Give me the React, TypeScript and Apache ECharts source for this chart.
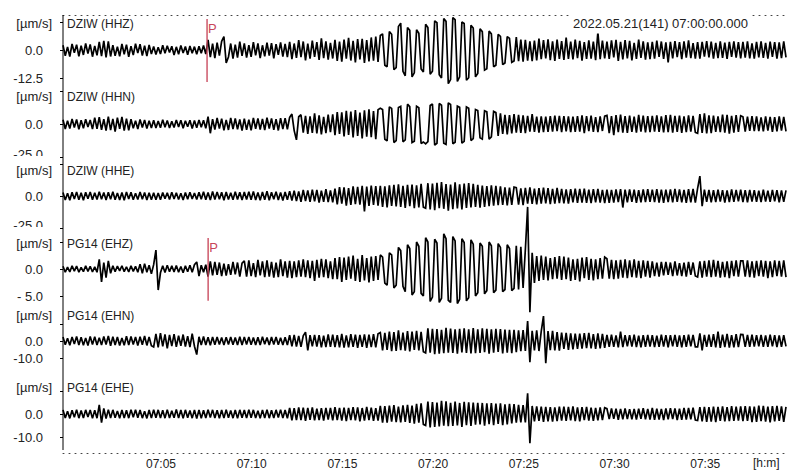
import React, { useEffect, useRef } from 'react';
import * as echarts from 'echarts';

// ---- data ----
const T0 = -0.4; // minutes after 07:00 at the left edge
const T1 = 39.45; // minutes after 07:00 at the right edge
const timeTicks = [5, 10, 15, 20, 25, 30, 35];
const timeLabels = ['07:05', '07:10', '07:15', '07:20', '07:25', '07:30', '07:35'];
const channelNames = ['DZIW (HHZ)', 'DZIW (HHN)', 'DZIW (HHE)', 'PG14 (EHZ)', 'PG14 (EHN)', 'PG14 (EHE)'];
const unitLabel = '[µm/s]';
const titleText = '2022.05.21(141) 07:00:00.000';
const axisUnit = '[h:m]';
const yLimits = [12.5, 25, 25, 5, 10, 10];
const minLabels = ['-12.5', '-25.0', '-25.0', '- 5.0', '-10.0', '-10.0'];

// velocity samples (µm/s), evenly spaced from T0 to T1
const HHZ = [
  2.1, -2.6, 1.4, -2.9, 2.7, -1.2, 2.4, -2.8, 1.9, -2.2, 2.9, -1.6, 2.5, -3.0, 1.8, -2.4, 3.6, -2.7, 4.1, -3.3,
  3.8, -2.9, 2.2, -2.6, 1.5, -2.8, 2.7, -1.9, 2.4, -3.0, 1.7, -2.3, 2.8, -1.4, 2.6, -2.5, 1.9, -2.7, 2.3, -1.8,
  1.6, -2.0, 1.2, -1.8, 2.1, -1.5, 1.9, -1.1, 1.7, -2.2, 1.4, -1.9, 2.0, -1.3, 1.6, -2.1, 1.8, -1.4, 1.5, -1.9,
  1.7, -1.5, 2.0, -1.8, 4.5, -3.2, 2.8, -3.6, 3.3, -2.5, 3.9, 6.0, -5.8, -3.1, 2.9, -3.8, 2.4, -3.4, 3.7, -2.6,
  3.0, -3.4, 2.2, -3.1, 3.5, -2.4, 2.9, -3.6, 2.1, -2.8, 3.3, -2.5, 3.1, -3.7, 2.6, -2.2, 3.4, -3.0, 2.7, -3.2,
  3.6, -4.1, 2.9, -3.5, 4.4, -3.2, 3.8, -4.6, 2.8, -3.9, 4.2, -3.1, 3.5, -4.4, 5.2, -3.6, 3.9, -4.3, 3.2, -3.8,
  4.5, -4.9, 3.8, -5.2, 4.6, -3.9, 5.4, -4.7, 4.1, -5.5, 4.9, -4.2, 5.0, -5.8, 4.4, -5.1, 5.6, -4.8, 6.0, -5.3,
  6.5, 7.2, -6.8, -7.5, 8.2, 7.0, -8.8, -7.9, 10.5, 12.0, -9.5, -11.5, 10.0, 8.8, -12.0, -10.2, 9.0, 7.5, -8.5, -9.8,
  11.5, 10.0, -10.8, -9.5, 13.0, 12.2, -11.0, -12.5, 14.0, 12.8, -15.0, -13.2, 14.5, 13.6, -14.0, -12.0, 12.5, 11.8, -13.5, -12.4,
  11.0, 9.8, -12.0, -10.5, 9.5, 8.2, -9.0, -8.4, 8.5, 7.2, -7.5, -6.8, 7.0, 6.1, -6.5, -5.8, 6.0, 5.2, -5.5, -4.9,
  5.8, -5.0, 4.6, -5.2, 4.5, -4.8, 3.9, -5.0, 4.2, -4.6, 5.1, -4.1, 4.4, -3.8, 4.8, -4.5, 3.9, -4.9, 4.6, -4.0,
  4.0, -4.4, 5.5, -4.0, 3.8, -4.2, 4.6, -3.6, 4.1, -4.7, 3.5, -4.0, 4.3, -3.9, 3.7, -4.5, 8.0, -4.1, 4.2, -3.8,
  3.8, -4.0, 4.3, -3.3, 4.5, -4.9, 3.6, -4.2, 4.4, -3.8, 4.1, -4.6, 3.2, -4.0, 4.6, -3.5, 3.9, -4.3, 3.4, -4.1,
  3.6, -3.9, 4.2, -3.1, 3.8, -4.0, 3.4, -5.5, 3.6, -3.7, 4.0, -3.2, 3.5, -4.1, 3.9, -3.4, 4.3, -3.6, 3.1, -3.8,
  3.5, -3.8, 3.6, -3.0, 4.0, -3.3, 3.7, -3.9, 3.2, -3.6, 3.8, -3.5, 3.3, -4.0, 3.6, -3.1, 3.9, -3.4, 3.5, -3.7,
  3.6, -3.4, 3.9, -3.7, 3.0, -3.8, 3.6, -3.3, 3.8, -3.5, 3.2, -3.9, 3.7, -3.1, 3.5, -3.8, 3.4, -3.6, 3.9, -3.3,
];

const HHN = [
  3.2, -3.8, 2.4, -3.5, 3.9, -2.6, 3.4, -4.1, 2.8, -3.3, 3.7, -2.2, 3.0, -3.9, 4.8, -3.6, 5.2, -4.4, 3.6, -5.0,
  5.5, -4.6, 3.9, -5.8, 4.8, -3.7, 5.4, -5.0, 4.1, -4.8, 3.6, -3.2, 2.5, -3.8, 3.4, -2.7, 3.1, -3.5, 2.4, -3.0,
  2.8, -3.1, 2.2, -2.9, 3.3, -2.4, 2.7, -3.0, 2.0, -2.6, 3.1, -2.3, 2.9, -3.2, 2.5, -2.1, 2.8, -3.4, 2.6, -2.9,
  3.0, -2.5, 2.8, -3.3, 5.5, -7.0, 3.6, -4.2, 4.6, -3.5, 4.0, -4.8, 3.1, -4.5, 4.7, -3.8, 4.2, -4.1, 3.4, -4.9,
  4.1, -4.5, 3.3, -4.8, 4.6, -3.6, 4.3, -4.2, 3.9, -4.7, 4.8, -3.4, 4.2, -4.4, 3.7, -4.9, 4.5, -3.9, 4.4, -4.0,
  5.0, 7.5, -5.0, -12.0, 5.5, 7.0, -6.5, 6.2, -7.5, 5.8, -6.8, 8.0, -7.2, 6.6, -7.8, 5.4, -6.9, 7.1, -6.2, 7.4,
  -8.5, 9.0, -7.6, 8.8, -9.5, 10.0, -8.2, 9.4, -10.2, 10.5, -9.0, 8.6, -11.0, 10.4, -9.6, 11.2, -10.0, 9.8, -11.5, 10.8,
  12.0, 11.0, -11.5, -12.8, 13.0, 11.8, -14.0, -12.6, 12.5, 13.4, -13.5, -12.0, 15.0, 13.2, -14.0, -13.0, 13.5, 12.4, -14.8, -13.6,
  -15.0, -13.4, 14.0, 15.2, -16.0, -14.6, 15.5, 14.2, -14.5, -15.4, 16.0, 14.8, -15.0, -13.8, 13.5, 12.6, -14.5, -13.2, 13.0, 12.0,
  -12.5, -11.0, 11.0, 10.2, -10.5, -11.5, 10.0, 9.2, -11.5, -9.8, 9.5, 8.6, -9.0, 8.0, -7.5, 7.0, -7.8, 6.8, -7.2, 7.5,
  -6.5, 7.0, -6.8, 6.5, -7.0, 6.2, -5.8, 7.4, -6.0, 5.5, -6.6, 5.8, -6.2, 5.6, -6.0, 5.9, -5.7, 6.4, -5.4, 6.1,
  -6.2, 6.0, -5.5, 5.8, -6.2, 5.6, -6.0, 5.9, -5.7, 6.5, -7.0, 6.0, -5.4, 6.3, -5.9, 5.2, -6.1, 5.7, -5.3, 6.0,
  6.5, -7.0, 6.0, -8.5, 6.8, -6.2, 7.2, -6.5, 6.0, -6.8, 6.4, -6.0, 5.6, -6.6, 6.9, -5.8, 6.3, -6.4, 5.9, -6.1,
  6.2, -5.8, 6.5, -6.0, 5.7, -6.3, 6.8, -6.1, 7.0, -6.6, 6.2, -5.9, 6.4, -6.8, 5.8, -6.2, 6.6, -5.7, 6.1, -6.4,
  -7.0, 7.5, -6.8, 8.0, -7.2, 6.5, -7.0, 6.3, -6.0, 5.8, -6.2, 7.2, -6.6, 6.9, -7.4, 6.2, -6.5, 6.8, -5.9, 6.3,
  5.5, -5.8, 5.6, -5.2, 5.9, -5.4, 5.7, -5.3, 5.0, -5.6, 5.8, -5.1, 5.4, -5.9, 5.2, -5.5, 5.7, -5.0, 5.3, -5.6,
];

const HHE = [
  2.8, -3.1, 2.2, -3.3, 3.0, -2.4, 3.2, -2.9, 2.5, -3.4, 2.9, -2.1, 3.1, -3.0, 2.6, -2.8, 3.3, -2.5, 2.7, -3.2,
  3.0, -2.6, 3.4, -2.9, 2.3, -3.1, 2.8, -3.3, 3.1, -2.4, 2.9, -3.0, 2.2, -2.8, 3.2, -2.6, 2.7, -3.1, 2.5, -2.9,
  2.6, -2.9, 2.3, -3.0, 2.8, -2.2, 2.5, -2.7, 3.0, -2.4, 2.6, -2.8, 2.1, -3.1, 2.7, -2.5, 2.9, -2.3, 2.4, -2.8,
  3.0, -2.6, 3.3, -2.9, 2.7, -3.2, 3.5, -2.8, 3.1, -2.5, 2.9, -3.3, 3.2, -2.7, 2.6, -3.0, 3.4, -2.8, 2.9, -3.1,
  3.1, -2.8, 3.3, -3.0, 3.6, -3.2, 2.7, -3.4, 3.1, -2.9, 3.7, -3.3, 3.0, -2.6, 3.4, -3.1, 2.8, -3.5, 3.2, -3.0,
  3.8, -3.5, 4.2, -4.0, 3.6, -4.5, 4.8, -3.9, 4.4, -4.6, 5.0, -4.2, 4.7, -5.2, 4.1, -4.5, 5.3, -4.8, 4.3, -5.0,
  5.8, -6.5, 7.0, -5.9, 6.8, -7.5, 6.2, -7.0, 7.5, -6.4, 7.2, -6.8, 8.0, -12.0, 7.4, -7.8, 8.2, -7.0, 7.8, -7.5,
  8.0, -8.5, 7.6, -9.0, 8.3, -7.8, 8.8, -8.2, 9.2, -8.6, 7.9, -9.4, 8.7, -8.0, 9.0, -9.6, 8.4, -8.9, 9.5, -8.7,
  -9.5, 10.0, -10.5, 9.8, -11.0, 10.2, -9.6, 10.8, -10.0, 9.4, -11.5, 9.0, -10.2, 10.6, -9.8, 9.2, -10.4, 9.7, -9.3, 10.1,
  -9.0, 9.5, -8.5, 8.8, -9.2, 8.2, -8.6, 7.8, -8.0, 8.4, -7.5, 7.9, -7.2, 7.6, -7.0, 6.8, -7.4, 6.5, -6.9, 7.0,
  6.5, -6.8, 6.0, -7.2, 6.4, -5.9, 6.8, -6.2, 5.7, -6.5, 6.2, -6.0, 6.6, -5.8, 6.1, -6.3, 5.6, -6.0, 6.3, -5.5,
  5.5, -5.8, 5.2, -6.0, 5.4, -5.0, 5.7, -5.3, 5.5, -5.1, 5.8, -5.4, 5.0, -5.6, 5.3, -4.9, 5.6, -5.2, 4.8, -5.5,
  5.0, -5.4, 4.8, -5.2, 5.1, -4.7, 5.3, -9.0, 5.0, -4.9, 5.2, -4.6, 4.9, -5.3, 4.5, -5.0, 5.2, -4.8, 5.4, -4.6,
  5.0, -4.8, 5.4, -5.1, 4.9, -5.3, 5.0, -4.7, 5.2, -4.9, 5.5, -4.6, 5.1, -5.0, 4.8, -5.4, 5.3, -4.9, 5.6, -5.2,
  6.0, 15.5, -8.0, 5.0, -4.6, 4.8, -5.0, 4.5, -4.7, 4.9, -4.4, 4.6, -5.1, 4.3, -4.8, 5.2, -4.5, 4.7, -4.2, 4.9,
  -4.8, 4.5, -4.9, 4.7, -4.3, 4.6, -4.5, 4.2, -4.7, 4.9, -4.4, 4.1, -4.6, 4.8, -4.2, 4.5, -4.9, 4.3, -4.6, 4.4,
];

const EHZ = [
  0.5, -0.6, 0.35, -0.55, 0.6, -0.4, 0.55, -0.6, 0.3, -0.5, 0.6, -0.45, 0.5, -0.55, 0.4, -0.6, 1.8, -2.4, 1.2, -1.6,
  1.5, -0.8, 0.6, -0.5, 0.55, -0.35, 0.6, -0.5, 0.4, -0.55, 0.6, -0.45, 0.5, -0.6, 0.9, -0.8, 1.0, -0.6, 0.7, -0.9,
  0.8, 3.5, -3.9, -0.7, 0.6, -0.65, 0.7, -0.5, 0.6, -0.55, 0.65, -0.6, 0.45, -0.7, 0.6, -0.5, 0.7, -0.6, 0.8, 1.3,
  -1.3, 0.7, -0.6, 0.8, -1.4, 1.4, -1.2, 1.3, -1.1, 1.2, -1.3, 1.0, -1.2, 0.9, -1.1, 1.3, -1.0, 1.2, -1.4, 1.1,
  1.5, -1.4, 1.6, -1.3, 1.1, -1.5, 1.7, -1.2, 1.4, -1.5, 1.6, -1.4, 1.3, -1.6, 1.2, -1.5, 1.8, -1.3, 1.4, -1.6,
  1.5, -1.7, 1.4, -1.5, 1.6, -1.4, 1.8, -1.5, 1.6, -1.7, 1.5, -2.2, 1.7, -1.6, 1.9, -1.5, 1.8, -1.7, 1.4, -1.9,
  2.0, -1.9, 2.2, -2.4, 2.1, -2.0, 2.3, -1.8, 2.5, -2.2, 1.9, -2.4, 2.6, -2.1, 2.0, -2.5, 2.3, -2.2, 2.4, -2.0,
  2.6, 2.2, -2.6, -3.0, 3.0, 2.6, -3.5, -3.0, 4.0, 3.4, -3.2, -4.2, 4.5, 3.8, -4.8, -4.2, 5.0, 4.2, -4.5, -5.0,
  5.8, 5.0, -6.0, -5.2, 5.5, 4.8, -6.2, -5.4, 6.5, 5.6, -5.8, -6.2, 6.0, 5.2, -6.4, -5.6, 5.6, 4.9, -5.9, -5.3,
  5.4, 4.6, -5.0, -4.4, 4.8, 4.2, -4.6, -4.0, 5.0, 4.3, -4.4, -3.9, 4.7, 4.0, -4.2, -3.8, 4.5, 3.8, -4.0, -3.6,
  4.3, -3.8, 4.1, -3.5, 3.6, 11.5, -8.0, 3.0, -2.6, 2.4, -2.2, 2.5, -2.0, 2.3, -2.1, 2.0, -1.9, 2.2, -1.8, 2.4,
  -2.0, 2.3, -1.9, 2.1, -2.2, 1.8, -2.0, 1.9, -2.3, 2.1, -1.7, 2.2, -2.0, 1.9, -2.1, 1.8, -1.9, 2.0, -1.8, 2.2,
  1.9, -1.8, 1.7, -1.9, 1.6, -1.8, 1.7, -1.6, 1.8, -1.7, 1.6, -1.5, 1.8, -1.6, 1.5, -1.7, 1.6, -1.4, 1.5, -1.6,
  1.4, -1.3, 1.2, -1.4, 1.3, -1.2, 1.3, -1.1, 1.2, -1.3, 1.4, -1.2, 1.1, -1.3, 1.2, -1.4, 1.3, -1.1, 1.2, -1.3,
  -1.5, 1.4, -1.6, 1.5, -1.4, 1.6, -1.5, 1.7, -1.4, 1.5, -1.6, 1.3, -1.5, 1.4, -1.7, 1.5, -1.3, 1.6, -1.4, 1.5,
  1.5, -1.4, 1.6, -1.5, 1.4, -1.6, 1.5, -1.3, 1.6, -1.4, 1.5, -1.7, 1.4, -1.5, 1.6, -1.3, 1.5, -1.4, 1.6, -1.5,
];

const EHN = [
  2.4, -2.2, 1.6, -2.5, 2.3, -1.8, 2.6, -2.4, 2.2, -2.5, 1.7, -2.6, 2.7, -2.0, 2.5, -2.3, 1.9, -2.4, 2.6, -2.1,
  3.0, -2.8, 2.5, -2.3, 2.4, -2.6, 1.8, -2.5, 2.8, -2.4, 2.6, -2.1, 2.3, -2.7, 2.5, -2.2, 2.9, -2.6, 2.4, -2.8,
  -3.5, 4.2, -3.8, 4.6, -3.2, 3.9, -4.4, 3.6, -3.0, 4.0, -3.4, 3.1, -2.8, 3.8, -3.3, 2.9, -3.6, 4.3, -3.1, -8.0,
  2.5, -2.3, 2.6, -2.4, 2.2, -2.5, 2.4, -2.2, 2.3, -2.1, 2.0, -2.3, 2.2, -2.0, 2.4, -2.2, 2.1, -2.3, 2.5, -2.4,
  2.3, -2.1, 2.4, -2.2, 2.0, -2.4, 2.2, -2.3, 2.5, -1.9, 2.1, -2.4, 2.3, -2.0, 2.4, -2.2, 1.9, -2.3, 2.2, -2.4,
  3.4, -3.2, 3.6, -3.3, 3.0, -3.5, 3.1, 5.2, -5.5, 3.4, -3.2, 3.6, -3.3, 3.5, -3.8, 3.2, -3.6, 3.9, -3.4, 3.7,
  -3.6, 3.5, -3.8, 4.2, -3.9, 3.3, -3.7, 4.0, -3.5, 3.8, -4.1, 3.6, -3.4, 3.9, -4.0, 3.7, -3.6, 4.1, -3.8, 4.3,
  5.0, -5.5, 4.8, -5.2, 5.6, -6.0, 5.3, -5.8, 6.2, -5.4, 4.9, -5.7, 5.8, -6.1, 5.5, -5.2, 6.0, -5.6, 5.4, -6.3,
  -7.0, 7.5, -6.8, 7.2, -7.8, 7.0, -7.4, 6.6, -7.2, 7.8, -6.9, 7.3, -7.0, 6.8, -7.5, 7.1, -6.7, 7.4, -7.0, 6.9,
  -7.3, 7.6, -7.2, 6.8, -7.0, 7.4, -6.6, 7.1, -7.5, 6.9, -6.8, 7.2, -6.4, 7.0, -7.3, 6.7, -6.9, 6.5, -7.1, 6.6,
  -6.5, 6.2, -6.0, 6.4, -5.8, 11.8, -12.4, 6.0, -5.5, 6.2, -5.9, 5.6, 14.7, -13.0, 5.8, -5.4, 6.0, -5.6, 5.2, -5.7,
  5.0, -4.6, 4.8, -5.2, 4.5, -4.9, 4.4, -4.7, 4.3, -4.5, 4.6, -4.2, 4.8, -4.4, 4.1, -4.6, 4.5, -4.3, 4.2, -4.0,
  3.6, -3.4, 3.8, -3.5, 3.3, -3.7, 5.5, -3.6, 3.4, -3.2, 3.5, -3.3, 3.7, -3.6, 3.2, -3.8, 3.5, -3.4, 3.6, -3.3,
  3.4, -3.6, 3.2, -3.5, 3.7, -3.3, 3.5, -3.8, 3.4, -3.2, 3.6, -3.5, 3.3, -3.7, 3.5, -3.4, 3.8, -3.2, 3.6, -3.5,
  -3.5, 4.5, -5.5, 3.6, -3.4, 3.8, -3.5, 4.0, -3.7, 5.5, -4.0, 3.7, -3.6, 4.2, -3.9, 3.5, -3.8, 4.1, -3.6, 3.9,
  3.8, -3.5, 3.6, -3.4, 3.7, -3.3, 3.5, -3.2, 3.6, -3.4, 3.3, -3.5, 3.7, -3.2, 3.4, -3.6, 3.3, -3.5, 3.4, -3.2,
];

const EHE = [
  1.8, -1.7, 1.2, -1.9, 1.6, -1.4, 1.9, -1.8, 1.5, -1.7, 1.8, -1.3, 1.7, -1.9, 1.6, -1.8, 4.0, -3.8, 2.4, -2.0,
  1.9, -1.7, 1.8, -1.6, 1.3, -1.9, 1.8, -1.7, 1.6, -1.8, 1.9, -1.4, 1.8, -1.6, 1.7, -1.8, 1.2, -1.9, 1.7, -1.8,
  1.9, -1.6, 1.8, -1.7, 1.6, -1.8, 1.9, -1.7, 1.4, -1.6, 2.0, -1.8, 1.7, -1.9, 1.8, -1.6, 1.5, -1.8, 1.7, -2.0,
  1.8, -1.9, 1.6, -1.7, 1.9, -1.5, 1.8, -1.7, 1.6, -1.9, 1.7, -1.8, 1.9, -1.6, 1.5, -1.8, 1.7, -1.9, 1.8, -1.6,
  1.7, -1.8, 1.9, -1.6, 1.8, -1.7, 1.4, -1.9, 1.8, -1.7, 1.9, -1.8, 1.6, -1.7, 1.8, -1.5, 1.9, -1.8, 1.7, -1.9,
  2.6, -2.8, 2.5, -2.7, 2.9, -2.6, 2.8, -3.0, 2.7, -2.5, 2.9, -2.8, 2.3, -2.6, 2.5, -2.9, 2.7, -2.4, 2.6, -2.8,
  3.0, -2.7, 2.6, -2.9, 2.8, -3.1, 2.7, -2.6, 3.0, -2.8, 2.9, -3.2, 2.6, -2.9, 3.1, -2.7, 2.8, -3.0, 2.5, -2.9,
  3.5, -3.7, 3.4, -3.8, 3.6, -3.3, 3.9, -3.5, 3.2, -3.6, 3.8, -3.4, 4.0, -3.9, 3.7, -4.2, 4.4, -3.8, 4.6, -4.5,
  -5.0, 5.4, -5.8, 5.2, -5.6, 5.0, -5.4, 5.7, -5.1, 5.5, -5.3, 4.9, -5.2, 5.4, -5.0, 4.8, -5.6, 5.3, -4.9, 5.1,
  -5.2, 5.0, -4.6, 4.9, -4.5, 4.8, -5.1, 4.6, -4.4, 4.7, -4.9, 4.5, -4.3, 4.6, -4.8, 4.2, -4.5, 4.4, -4.1, 4.3,
  -3.8, 4.0, -3.6, 3.9, -3.7, 9.0, -12.7, 3.5, -3.2, 3.3, -3.0, 3.2, -3.4, 3.1, -3.2, 3.0, -3.3, 2.9, -3.1, 3.2,
  -2.9, 3.2, -3.0, 3.1, -2.8, 3.3, -3.1, 2.9, -3.2, 3.0, -2.7, 3.1, -2.9, 2.8, -3.0, 2.6, -2.8, 2.9, -2.6, 2.7,
  2.3, -2.2, 2.4, -2.1, 2.3, -2.5, 2.2, -2.3, 2.4, -2.2, 2.1, -2.3, 2.2, -2.4, 2.3, -2.1, 2.5, -2.3, 2.2, -2.4,
  2.6, -2.5, 2.3, -2.4, 2.2, -2.6, 2.4, -2.3, 2.5, -2.2, 2.4, -2.6, 2.3, -2.5, 2.7, -2.4, 2.6, -2.3, 2.8, -2.6,
  -2.8, 3.0, -3.2, 3.1, -3.4, 3.0, -3.3, 3.2, -3.5, 3.1, -3.0, 3.3, -3.2, 3.0, -3.1, 3.4, -3.0, 3.2, -2.9, 3.3,
  -3.1, 3.4, -3.0, 3.3, -3.5, 3.2, -3.4, 3.6, -3.1, 3.5, -3.3, 3.2, -3.6, 3.4, -3.2, 3.5, -3.0, 3.3, -3.4, 3.1,
];

const traces = [HHZ, HHN, HHE, EHZ, EHN, EHE];

// P-phase picks: channel index, time (min), lower and upper extent (µm/s)
const pickChannels = [0, 3];
const pickTimes = [7.54, 7.6];
const pickLow = [-14.3, -5.9];
const pickHigh = [13.8, 5.74];
const pickLabel = 'P';

// ---- layout (pixels) ----
const FONT = '"Liberation Sans", Arial, sans-serif';
const LEFT = 63;
const RIGHT = 14;
const gridTops = [22, 91, 164, 242, 324, 391];
const gridHeights = [56, 66, 64, 54, 34, 46];
const labelYs = [23, 96, 170, 243, 315, 387];
const raisedMinLabel = [false, true, true, false, false, false];

export default function App() {
  const ref = useRef<HTMLDivElement>(null);

  useEffect(() => {
    if (!ref.current) return;
    const chart = echarts.init(ref.current, undefined, { renderer: 'svg' });

    const grids = gridTops.map((top, k) => ({
      left: LEFT,
      right: RIGHT,
      top,
      height: gridHeights[k],
    }));

    const dotted = { show: true, onZero: false, lineStyle: { color: '#444', width: 1, type: [1, 5] } };

    const xAxes = grids.map((_, k) => {
      const base: any = {
        gridIndex: k,
        type: 'value',
        min: T0,
        max: T1,
        splitLine: { show: false },
        axisTick: { show: false },
      };
      if (k === 0) {
        return { ...base, position: 'top', offset: 7, axisLine: dotted, axisLabel: { show: false } };
      }
      if (k === grids.length - 1) {
        return {
          ...base,
          position: 'bottom',
          offset: 16,
          axisLine: dotted,
          axisLabel: {
            show: true,
            customValues: timeTicks,
            margin: 5,
            fontSize: 12,
            fontFamily: FONT,
            color: '#222',
            formatter: (v: number) => {
              const i = timeTicks.indexOf(Math.round(v));
              return i >= 0 ? timeLabels[i] : '';
            },
          },
        };
      }
      return { ...base, show: false };
    });

    const yAxes = grids.map((_, k) => ({
      gridIndex: k,
      type: 'value',
      min: -yLimits[k],
      max: yLimits[k],
      axisLine: { show: false, onZero: false },
      splitLine: { show: false },
      axisTick: {
        show: true,
        length: 3,
        customValues: [-yLimits[k], 0, yLimits[k]],
        lineStyle: { color: '#000' },
      },
      axisLabel: {
        show: true,
        customValues: [-yLimits[k], 0],
        margin: 20,
        fontSize: 13,
        fontFamily: FONT,
        color: '#222',
        formatter: (v: number) =>
          v === 0 ? '0.0' : raisedMinLabel[k] ? `{up|${minLabels[k]}}` : minLabels[k],
        rich: {
          up: { fontSize: 13, fontFamily: FONT, color: '#222', padding: [0, 0, 5, 0] },
        },
      },
    }));

    const traceSeries = traces.map((arr, k) => ({
      type: 'line',
      xAxisIndex: k,
      yAxisIndex: k,
      data: arr.map((v, i) => [T0 + (i * (T1 - T0)) / (arr.length - 1), v]),
      showSymbol: false,
      symbol: 'none',
      clip: false,
      silent: true,
      lineStyle: { color: '#000', width: 1.7, join: 'miter', miterLimit: 2 },
      z: 2,
    }));

    const pickSeries = pickChannels.map((ch, j) => ({
      type: 'line',
      xAxisIndex: ch,
      yAxisIndex: ch,
      data: [
        [pickTimes[j], pickLow[j]],
        [pickTimes[j], pickHigh[j]],
      ],
      showSymbol: false,
      symbol: 'none',
      clip: false,
      silent: true,
      lineStyle: { color: '#c8465a', width: 1.5, opacity: 0.9 },
      endLabel: {
        show: true,
        formatter: pickLabel,
        color: '#c8465a',
        fontSize: 13,
        fontFamily: FONT,
        distance: 1,
        offset: [0, 9],
      },
      z: 5,
    }));

    const graphics: any[] = [
      {
        type: 'line',
        shape: { x1: LEFT, y1: 15, x2: LEFT, y2: 450 },
        style: { stroke: '#000', lineWidth: 1 },
        z: 10,
      },
      // partially hidden "-25.0" labels (covered by the next panel)
      { type: 'rect', shape: { x: 0, y: 156, width: 60, height: 7 }, style: { fill: '#fff' }, z: 20 },
      { type: 'rect', shape: { x: 0, y: 227, width: 60, height: 7 }, style: { fill: '#fff' }, z: 20 },
      {
        type: 'text',
        x: 750,
        y: 23,
        z: 30,
        style: {
          text: titleText,
          fill: '#222',
          font: `13px ${FONT}`,
          align: 'right',
          verticalAlign: 'middle',
          backgroundColor: '#fff',
          padding: [6, 2, 2, 2],
        },
      },
      {
        type: 'text',
        x: 753,
        y: 463,
        z: 30,
        style: { text: axisUnit, fill: '#222', font: `12px ${FONT}`, align: 'left', verticalAlign: 'middle' },
      },
    ];
    labelYs.forEach((y, k) => {
      graphics.push({
        type: 'text',
        x: 52,
        y,
        z: 30,
        style: {
          text: unitLabel,
          fill: '#222',
          font: `13px ${FONT}`,
          align: 'right',
          verticalAlign: 'middle',
        },
      });
      graphics.push({
        type: 'text',
        x: 67,
        y: y + 1,
        z: 30,
        style: { text: channelNames[k], fill: '#222', font: `12px ${FONT}`, align: 'left', verticalAlign: 'middle' },
      });
    });

    chart.setOption({
      animation: false,
      backgroundColor: '#fff',
      grid: grids,
      xAxis: xAxes,
      yAxis: yAxes,
      series: [...traceSeries, ...pickSeries],
      graphic: graphics,
    });

    return () => chart.dispose();
  }, []);

  return <div ref={ref} style={{ position: 'absolute', left: 0, top: 0, width: 800, height: 474 }} />;
}
